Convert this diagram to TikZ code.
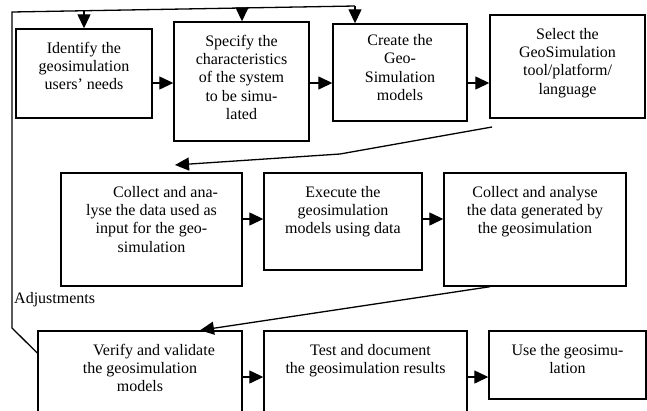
\documentclass[tikz,border=0pt]{standalone}
\usepackage{fontspec}
\setmainfont{Liberation Serif}
\usepackage{tikz}
\usetikzlibrary{arrows.meta}

\newcommand{\stagefont}{\fontsize{16}{18.3}\selectfont}
\tikzset{
    stage/.style={draw, line width=1.4pt, inner sep=0pt},
    stagetext/.style={anchor=north, align=center, inner xsep=0pt, inner ysep=13.5pt, font=\stagefont},
    flow/.style={line width=1.3pt, -{Triangle[length=14pt, width=13pt]}},
    link/.style={line width=1.3pt}
}

\begin{document}
\begin{tikzpicture}[x=1pt, y=-1pt]
    \useasboundingbox (0,0) rectangle (647,410);

    % First row
    \node[stage, minimum width=136pt, minimum height=89pt]  (A) at (84,73.5) {};
    \node[stage, minimum width=135pt, minimum height=119pt] (B) at (241.5,81.5) {};
    \node[stage, minimum width=134pt, minimum height=97pt]  (C) at (400,72.5) {};
    \node[stage, minimum width=155pt, minimum height=103pt] (D) at (567.5,66.5) {};

    % Second row
    \node[stage, minimum width=181pt, minimum height=113pt] (E) at (151.5,229.5) {};
    \node[stage, minimum width=158pt, minimum height=97pt]  (F) at (343,221.5) {};
    \node[stage, minimum width=182pt, minimum height=113pt] (G) at (535,229.5) {};

    % Third row
    \node[stage, minimum width=204pt, minimum height=84pt]  (H) at (140,373) {};
    \node[stage, minimum width=203pt, minimum height=84pt]  (I) at (365.5,373) {};
    \node[stage, minimum width=157pt, minimum height=68pt]  (J) at (567.5,365) {};

    % Texts
    \node[stagetext] (A_t) at (A.north) {Identify the\\ geosimulation\\ users' needs};
    \node[stagetext] (B_t) at (B.north) {Specify the\\ characteristics\\ of the system\\ to be simu-\\ lated};
    \node[stagetext, inner ysep=11pt] (C_t) at (C.north) {Create the\\ Geo-\\ Simulation\\ models};
    \node[stagetext] (D_t) at (D.north) {Select the\\ GeoSimulation\\ tool/platform/\\ language};
    \node[stagetext] (E_t) at (E.north) {\hspace*{28pt}Collect and ana-\\ lyse the data used as\\ input for the geo-\\ simulation};
    \node[stagetext] (F_t) at (F.north) {Execute the\\ geosimulation\\ models using data};
    \node[stagetext] (G_t) at (G.north) {Collect and analyse\\ the data generated by\\ the geosimulation};
    \node[stagetext] (H_t) at (H.north) {\hspace*{28pt}Verify and validate\\ the geosimulation\\ models};
    \node[stagetext] (I_t) at (I.north) {\hspace*{10pt}Test and document\\ the geosimulation results};
    \node[stagetext] (J_t) at (J.north) {Use the geosimu-\\ lation};
    \node[anchor=base west, inner sep=0pt, font=\stagefont] (adj) at (14,303) {Adjustments};

    % Helper points
    \coordinate (row1) at (0,83);
    \coordinate (row2) at (0,219);
    \coordinate (row3) at (0,377);
    \coordinate (tapA) at (84,11);
    \coordinate (tapB) at (242,8.5);
    \coordinate (tapC) at (355,6);
    \coordinate (fb_top) at (12,12);
    \coordinate (fb_bot) at (12,328);
    \coordinate (hookH) at (H.west |- 0,353);
    \coordinate (dE_start) at (492,127);
    \coordinate (dE_bend) at (340,154);
    \coordinate (dE_end) at (175,165);
    \coordinate (gH_start) at (G.south west -| 490,0);
    \coordinate (gH_end) at (H.north west -| 200,0);

    % Flow along the rows
    \draw[flow] (A.east |- row1) -- (B.west |- row1); \draw[flow] (B.east |- row1) -- (C.west |- row1);
    \draw[flow] (C.east |- row1) -- (D.west |- row1);
    \draw[flow] (E.east |- row2) -- (F.west |- row2); \draw[flow] (F.east |- row2) -- (G.west |- row2);
    \draw[flow] (H.east |- row3) -- (I.west |- row3); \draw[flow] (I.east |- row3) -- (J.west |- row3);

    % Between the rows
    \draw[flow] (dE_start) -- (dE_bend) -- (dE_end);
    \draw[flow] (gH_start) -- (gH_end);

    % Adjustments loop
    \draw[link] (hookH) -- (fb_bot) -- (fb_top) -- (tapC);
    \draw[flow] (tapA) -- (tapA |- A.north);
    \draw[flow] (tapB) -- (tapB |- B.north);
    \draw[flow] (tapC) -- (tapC |- C.north);
\end{tikzpicture}
\end{document}
